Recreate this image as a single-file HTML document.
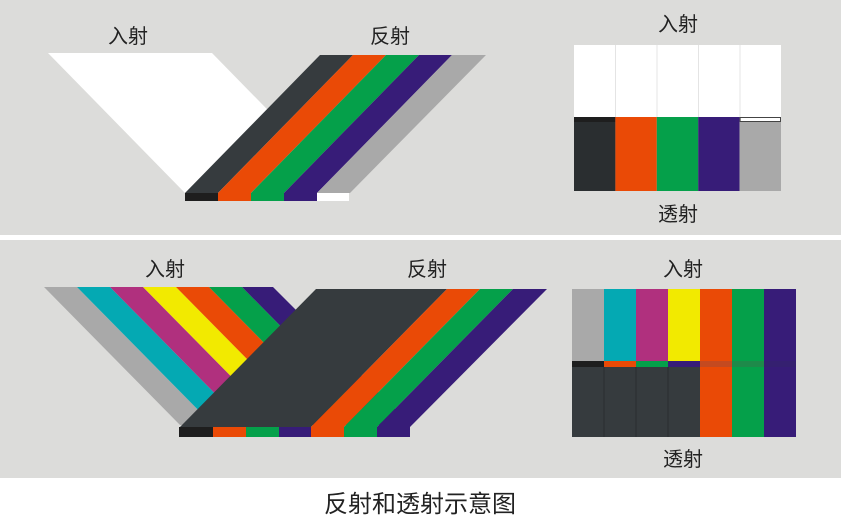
<!DOCTYPE html>
<html><head><meta charset="utf-8"><style>
html,body{margin:0;padding:0;background:#fff;}
svg{display:block;}
text{font-family:"Liberation Sans","Noto Sans CJK SC",sans-serif;fill:#222;}
</style></head><body>
<svg width="841" height="530" viewBox="0 0 841 530" xmlns="http://www.w3.org/2000/svg">
<rect x="0" y="0" width="841" height="235" fill="#dcdcda"/>
<rect x="0" y="240" width="841" height="238" fill="#dcdcda"/>

<!-- TOP LEFT -->
<polygon points="48,53 212,53 349,193 185,193" fill="#ffffff"/>
<polygon points="320,55 353,55 218,193 185,193" fill="#363b3e"/>
<polygon points="353,55 386,55 251,193 218,193" fill="#ea4a06"/>
<polygon points="386,55 419,55 284,193 251,193" fill="#05a04a"/>
<polygon points="419,55 452,55 317,193 284,193" fill="#371c78"/>
<polygon points="452,55 486,55 350,193 317,193" fill="#a9a9a9"/>
<rect x="185" y="193" width="33" height="8" fill="#1e1e1e"/>
<rect x="218" y="193" width="33" height="8" fill="#ea4a06"/>
<rect x="251" y="193" width="33" height="8" fill="#05a04a"/>
<rect x="284" y="193" width="33" height="8" fill="#371c78"/>
<rect x="317" y="193" width="32" height="8" fill="#ffffff"/>
<text x="128" y="43" font-size="20" text-anchor="middle">入射</text>
<text x="390" y="43" font-size="20" text-anchor="middle">反射</text>

<!-- TOP RIGHT -->
<rect x="574" y="45" width="207" height="72" fill="#ffffff"/>
<g stroke="#e4e4e4" stroke-width="1">
<line x1="615.5" y1="45" x2="615.5" y2="117"/><line x1="657" y1="45" x2="657" y2="117"/>
<line x1="698.5" y1="45" x2="698.5" y2="117"/><line x1="740" y1="45" x2="740" y2="117"/>
</g>
<rect x="574" y="117" width="41.4" height="5" fill="#1e1e1e"/>
<rect x="615.4" y="117" width="41.4" height="5" fill="#ea4a06"/>
<rect x="656.8" y="117" width="41.4" height="5" fill="#05a04a"/>
<rect x="698.2" y="117" width="41.4" height="5" fill="#371c78"/>
<rect x="740.1" y="117.5" width="40.4" height="4" fill="#ffffff" stroke="#444" stroke-width="1"/>
<rect x="574" y="122" width="41.4" height="69" fill="#2a2e30"/>
<rect x="615.4" y="122" width="41.4" height="69" fill="#ea4a06"/>
<rect x="656.8" y="122" width="41.4" height="69" fill="#05a04a"/>
<rect x="698.2" y="122" width="41.4" height="69" fill="#371c78"/>
<rect x="739.6" y="122" width="41.4" height="69" fill="#a9a9a9"/>
<text x="678" y="31" font-size="20" text-anchor="middle">入射</text>
<text x="678" y="221" font-size="20" text-anchor="middle">透射</text>

<!-- BOTTOM LEFT incident -->
<polygon points="44,287 77,287 213,425 180,425" fill="#a9a9a9"/>
<polygon points="77,287 110,287 246,425 213,425" fill="#04a9b3"/>
<polygon points="110,287 143,287 279,425 246,425" fill="#b0307e"/>
<polygon points="143,287 176,287 312,425 279,425" fill="#f2ea00"/>
<polygon points="176,287 209,287 345,425 312,425" fill="#ea4a06"/>
<polygon points="209,287 242,287 378,425 345,425" fill="#05a04a"/>
<polygon points="242,287 273,287 411,425 378,425" fill="#371c78"/>
<!-- reflected -->
<polygon points="316,289 447,289 311,427 180,427" fill="#363b3e"/>
<polygon points="447,289 480,289 344,427 311,427" fill="#ea4a06"/>
<polygon points="480,289 513,289 377,427 344,427" fill="#05a04a"/>
<polygon points="513,289 547,289 410,427 377,427" fill="#371c78"/>
<rect x="179" y="427" width="34" height="10" fill="#1e1e1e"/>
<rect x="213" y="427" width="33" height="10" fill="#ea4a06"/>
<rect x="246" y="427" width="33" height="10" fill="#05a04a"/>
<rect x="279" y="427" width="32" height="10" fill="#371c78"/>
<rect x="311" y="427" width="33" height="10" fill="#ea4a06"/>
<rect x="344" y="427" width="33" height="10" fill="#05a04a"/>
<rect x="377" y="427" width="33" height="10" fill="#371c78"/>
<text x="165" y="276" font-size="20" text-anchor="middle">入射</text>
<text x="427" y="276" font-size="20" text-anchor="middle">反射</text>

<!-- BOTTOM RIGHT -->
<rect x="572" y="289" width="32" height="72" fill="#a9a9a9"/>
<rect x="604" y="289" width="32" height="72" fill="#04a9b3"/>
<rect x="636" y="289" width="32" height="72" fill="#b0307e"/>
<rect x="668" y="289" width="32" height="72" fill="#f2ea00"/>
<rect x="700" y="289" width="32" height="72" fill="#ea4a06"/>
<rect x="732" y="289" width="32" height="72" fill="#05a04a"/>
<rect x="764" y="289" width="32" height="72" fill="#371c78"/>
<rect x="572" y="361" width="32" height="6" fill="#1e1e1e"/>
<rect x="604" y="361" width="32" height="6" fill="#ea4a06"/>
<rect x="636" y="361" width="32" height="6" fill="#05a04a"/>
<rect x="668" y="361" width="32" height="6" fill="#371c78"/>
<rect x="700" y="361" width="32" height="6" fill="#c44a20"/>
<rect x="732" y="361" width="32" height="6" fill="#1e8a4a"/>
<rect x="764" y="361" width="32" height="6" fill="#352070"/>
<rect x="572" y="367" width="128" height="70" fill="#363b3e"/>
<g stroke="#2a2e30" stroke-width="1"><line x1="604" y1="367" x2="604" y2="437"/><line x1="636" y1="367" x2="636" y2="437"/><line x1="668" y1="367" x2="668" y2="437"/></g>
<rect x="700" y="367" width="32" height="70" fill="#ea4a06"/>
<rect x="732" y="367" width="32" height="70" fill="#05a04a"/>
<rect x="764" y="367" width="32" height="70" fill="#371c78"/>
<text x="683" y="276" font-size="20" text-anchor="middle">入射</text>
<text x="683" y="466" font-size="20" text-anchor="middle">透射</text>

<text x="420" y="512" font-size="24" text-anchor="middle">反射和透射示意图</text>
</svg>
</body></html>
